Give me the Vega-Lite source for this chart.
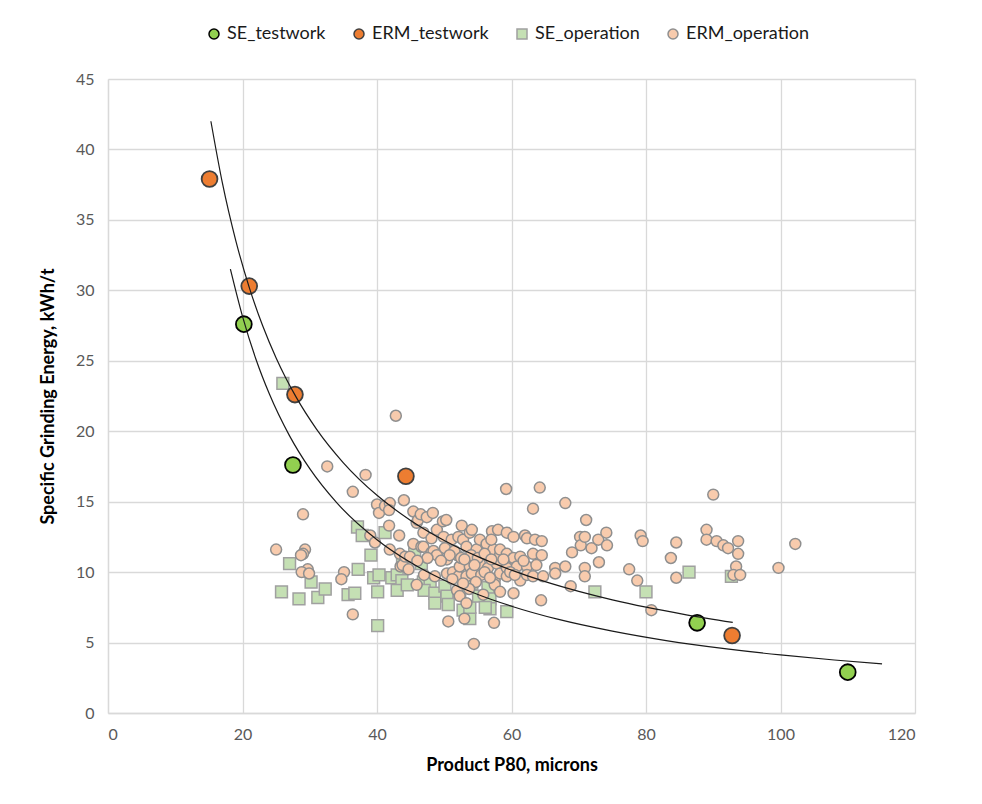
{
  "$schema": "https://vega.github.io/schema/vega-lite/v6.json",
  "autosize": {"type": "none"},
  "width": 807,
  "height": 634,
  "padding": {"left": 108, "top": 79, "right": 67, "bottom": 91},
  "background": "white",
  "config": {
    "font": "Lato",
    "view": {"stroke": null},
    "axis": {
      "gridColor": "#d9d9d9",
      "gridWidth": 1.3,
      "domainColor": "#d9d9d9",
      "domainWidth": 1.3,
      "ticks": false,
      "labelFont": "Lato",
      "labelFontSize": 16,
      "labelColor": "#595959",
      "titleFont": "Lato",
      "titleFontSize": 18,
      "titleFontWeight": "bold",
      "titleColor": "#000000"
    },
    "legend": {
      "direction": "horizontal",
      "labelFont": "Lato",
      "labelFontSize": 18,
      "labelColor": "#1a1a1a",
      "symbolSize": 100,
      "symbolStrokeWidth": 1.5,
      "columnPadding": 24
    }
  },
  "datasets": {
    "pts": [
      {"x": 26.0, "y": 23.4, "series": "SE_operation"},
      {"x": 27.0, "y": 10.6, "series": "SE_operation"},
      {"x": 25.8, "y": 8.6, "series": "SE_operation"},
      {"x": 28.4, "y": 8.1, "series": "SE_operation"},
      {"x": 30.2, "y": 9.3, "series": "SE_operation"},
      {"x": 31.2, "y": 8.2, "series": "SE_operation"},
      {"x": 32.3, "y": 8.8, "series": "SE_operation"},
      {"x": 35.7, "y": 8.4, "series": "SE_operation"},
      {"x": 36.7, "y": 8.5, "series": "SE_operation"},
      {"x": 37.1, "y": 13.2, "series": "SE_operation"},
      {"x": 37.8, "y": 12.6, "series": "SE_operation"},
      {"x": 37.2, "y": 10.2, "series": "SE_operation"},
      {"x": 39.1, "y": 11.2, "series": "SE_operation"},
      {"x": 39.5, "y": 9.6, "series": "SE_operation"},
      {"x": 40.3, "y": 9.8, "series": "SE_operation"},
      {"x": 40.1, "y": 8.6, "series": "SE_operation"},
      {"x": 40.1, "y": 6.2, "series": "SE_operation"},
      {"x": 41.2, "y": 12.8, "series": "SE_operation"},
      {"x": 42.2, "y": 9.6, "series": "SE_operation"},
      {"x": 43.0, "y": 9.8, "series": "SE_operation"},
      {"x": 43.7, "y": 9.4, "series": "SE_operation"},
      {"x": 43.0, "y": 8.7, "series": "SE_operation"},
      {"x": 44.5, "y": 9.1, "series": "SE_operation"},
      {"x": 43.8, "y": 10.7, "series": "SE_operation"},
      {"x": 46.6, "y": 10.6, "series": "SE_operation"},
      {"x": 45.6, "y": 11.3, "series": "SE_operation"},
      {"x": 46.9, "y": 9.3, "series": "SE_operation"},
      {"x": 47.9, "y": 9.2, "series": "SE_operation"},
      {"x": 47.0, "y": 8.7, "series": "SE_operation"},
      {"x": 48.6, "y": 8.5, "series": "SE_operation"},
      {"x": 48.6, "y": 7.8, "series": "SE_operation"},
      {"x": 50.1, "y": 9.0, "series": "SE_operation"},
      {"x": 50.4, "y": 8.3, "series": "SE_operation"},
      {"x": 50.6, "y": 7.7, "series": "SE_operation"},
      {"x": 52.3, "y": 8.6, "series": "SE_operation"},
      {"x": 54.1, "y": 9.2, "series": "SE_operation"},
      {"x": 52.8, "y": 7.3, "series": "SE_operation"},
      {"x": 53.8, "y": 6.7, "series": "SE_operation"},
      {"x": 53.8, "y": 7.5, "series": "SE_operation"},
      {"x": 55.1, "y": 8.3, "series": "SE_operation"},
      {"x": 56.5, "y": 8.9, "series": "SE_operation"},
      {"x": 56.8, "y": 8.1, "series": "SE_operation"},
      {"x": 56.8, "y": 7.4, "series": "SE_operation"},
      {"x": 56.1, "y": 7.5, "series": "SE_operation"},
      {"x": 59.3, "y": 7.2, "series": "SE_operation"},
      {"x": 72.4, "y": 8.6, "series": "SE_operation"},
      {"x": 80.0, "y": 8.6, "series": "SE_operation"},
      {"x": 86.4, "y": 10.0, "series": "SE_operation"},
      {"x": 92.7, "y": 9.7, "series": "SE_operation"},

      {"x": 25.0, "y": 11.6, "series": "ERM_operation"},
      {"x": 29.0, "y": 14.1, "series": "ERM_operation"},
      {"x": 29.3, "y": 11.6, "series": "ERM_operation"},
      {"x": 29.0, "y": 11.3, "series": "ERM_operation"},
      {"x": 28.7, "y": 11.2, "series": "ERM_operation"},
      {"x": 29.7, "y": 10.2, "series": "ERM_operation"},
      {"x": 28.8, "y": 10.0, "series": "ERM_operation"},
      {"x": 29.9, "y": 9.9, "series": "ERM_operation"},
      {"x": 32.6, "y": 17.5, "series": "ERM_operation"},
      {"x": 35.1, "y": 10.0, "series": "ERM_operation"},
      {"x": 34.7, "y": 9.5, "series": "ERM_operation"},
      {"x": 36.4, "y": 15.7, "series": "ERM_operation"},
      {"x": 36.4, "y": 7.0, "series": "ERM_operation"},
      {"x": 38.3, "y": 16.9, "series": "ERM_operation"},
      {"x": 39.0, "y": 12.6, "series": "ERM_operation"},
      {"x": 39.7, "y": 12.1, "series": "ERM_operation"},
      {"x": 40.0, "y": 14.8, "series": "ERM_operation"},
      {"x": 40.3, "y": 14.2, "series": "ERM_operation"},
      {"x": 41.2, "y": 14.7, "series": "ERM_operation"},
      {"x": 41.9, "y": 14.9, "series": "ERM_operation"},
      {"x": 41.8, "y": 14.4, "series": "ERM_operation"},
      {"x": 41.8, "y": 13.3, "series": "ERM_operation"},
      {"x": 41.9, "y": 11.6, "series": "ERM_operation"},
      {"x": 42.8, "y": 21.1, "series": "ERM_operation"},
      {"x": 43.3, "y": 12.6, "series": "ERM_operation"},
      {"x": 43.4, "y": 11.3, "series": "ERM_operation"},
      {"x": 43.5, "y": 10.4, "series": "ERM_operation"},
      {"x": 43.8, "y": 10.5, "series": "ERM_operation"},
      {"x": 44.2, "y": 11.1, "series": "ERM_operation"},
      {"x": 44.0, "y": 15.1, "series": "ERM_operation"},
      {"x": 44.9, "y": 11.1, "series": "ERM_operation"},
      {"x": 45.4, "y": 14.3, "series": "ERM_operation"},
      {"x": 45.4, "y": 12.0, "series": "ERM_operation"},
      {"x": 45.9, "y": 13.5, "series": "ERM_operation"},
      {"x": 45.9, "y": 9.1, "series": "ERM_operation"},
      {"x": 46.1, "y": 13.7, "series": "ERM_operation"},
      {"x": 46.5, "y": 14.1, "series": "ERM_operation"},
      {"x": 46.6, "y": 11.8, "series": "ERM_operation"},
      {"x": 46.9, "y": 12.8, "series": "ERM_operation"},
      {"x": 46.9, "y": 11.8, "series": "ERM_operation"},
      {"x": 47.4, "y": 13.9, "series": "ERM_operation"},
      {"x": 48.1, "y": 12.4, "series": "ERM_operation"},
      {"x": 48.1, "y": 11.4, "series": "ERM_operation"},
      {"x": 48.3, "y": 14.2, "series": "ERM_operation"},
      {"x": 48.4, "y": 11.5, "series": "ERM_operation"},
      {"x": 48.6, "y": 9.7, "series": "ERM_operation"},
      {"x": 48.9, "y": 13.0, "series": "ERM_operation"},
      {"x": 48.9, "y": 11.2, "series": "ERM_operation"},
      {"x": 49.8, "y": 13.6, "series": "ERM_operation"},
      {"x": 49.9, "y": 12.5, "series": "ERM_operation"},
      {"x": 50.1, "y": 11.7, "series": "ERM_operation"},
      {"x": 50.3, "y": 13.7, "series": "ERM_operation"},
      {"x": 50.4, "y": 10.9, "series": "ERM_operation"},
      {"x": 50.4, "y": 9.9, "series": "ERM_operation"},
      {"x": 50.6, "y": 6.5, "series": "ERM_operation"},
      {"x": 51.1, "y": 12.3, "series": "ERM_operation"},
      {"x": 51.3, "y": 10.0, "series": "ERM_operation"},
      {"x": 51.9, "y": 11.2, "series": "ERM_operation"},
      {"x": 51.9, "y": 8.7, "series": "ERM_operation"},
      {"x": 52.1, "y": 12.5, "series": "ERM_operation"},
      {"x": 52.1, "y": 9.7, "series": "ERM_operation"},
      {"x": 52.3, "y": 10.4, "series": "ERM_operation"},
      {"x": 52.3, "y": 8.3, "series": "ERM_operation"},
      {"x": 52.6, "y": 13.3, "series": "ERM_operation"},
      {"x": 52.8, "y": 12.3, "series": "ERM_operation"},
      {"x": 53.0, "y": 6.7, "series": "ERM_operation"},
      {"x": 53.3, "y": 11.8, "series": "ERM_operation"},
      {"x": 53.3, "y": 9.7, "series": "ERM_operation"},
      {"x": 53.3, "y": 7.8, "series": "ERM_operation"},
      {"x": 53.8, "y": 12.8, "series": "ERM_operation"},
      {"x": 53.8, "y": 10.4, "series": "ERM_operation"},
      {"x": 54.1, "y": 13.0, "series": "ERM_operation"},
      {"x": 54.1, "y": 9.9, "series": "ERM_operation"},
      {"x": 54.4, "y": 4.9, "series": "ERM_operation"},
      {"x": 54.8, "y": 11.6, "series": "ERM_operation"},
      {"x": 55.3, "y": 12.3, "series": "ERM_operation"},
      {"x": 55.3, "y": 10.6, "series": "ERM_operation"},
      {"x": 55.8, "y": 8.4, "series": "ERM_operation"},
      {"x": 56.3, "y": 12.0, "series": "ERM_operation"},
      {"x": 56.5, "y": 10.3, "series": "ERM_operation"},
      {"x": 57.1, "y": 12.9, "series": "ERM_operation"},
      {"x": 57.3, "y": 11.6, "series": "ERM_operation"},
      {"x": 57.4, "y": 6.4, "series": "ERM_operation"},
      {"x": 57.5, "y": 9.4, "series": "ERM_operation"},
      {"x": 57.5, "y": 9.1, "series": "ERM_operation"},
      {"x": 57.8, "y": 10.6, "series": "ERM_operation"},
      {"x": 58.0, "y": 13.0, "series": "ERM_operation"},
      {"x": 58.3, "y": 11.2, "series": "ERM_operation"},
      {"x": 58.3, "y": 9.9, "series": "ERM_operation"},
      {"x": 58.3, "y": 8.6, "series": "ERM_operation"},
      {"x": 58.3, "y": 11.6, "series": "ERM_operation"},
      {"x": 59.2, "y": 15.9, "series": "ERM_operation"},
      {"x": 59.3, "y": 12.8, "series": "ERM_operation"},
      {"x": 59.3, "y": 11.3, "series": "ERM_operation"},
      {"x": 59.3, "y": 10.3, "series": "ERM_operation"},
      {"x": 59.3, "y": 9.7, "series": "ERM_operation"},
      {"x": 60.3, "y": 12.5, "series": "ERM_operation"},
      {"x": 60.3, "y": 11.0, "series": "ERM_operation"},
      {"x": 60.3, "y": 8.5, "series": "ERM_operation"},
      {"x": 60.8, "y": 10.4, "series": "ERM_operation"},
      {"x": 61.3, "y": 11.1, "series": "ERM_operation"},
      {"x": 61.3, "y": 9.4, "series": "ERM_operation"},
      {"x": 62.0, "y": 12.6, "series": "ERM_operation"},
      {"x": 62.3, "y": 12.4, "series": "ERM_operation"},
      {"x": 62.3, "y": 10.4, "series": "ERM_operation"},
      {"x": 62.3, "y": 9.8, "series": "ERM_operation"},
      {"x": 63.2, "y": 14.5, "series": "ERM_operation"},
      {"x": 63.2, "y": 11.3, "series": "ERM_operation"},
      {"x": 63.2, "y": 9.7, "series": "ERM_operation"},
      {"x": 63.5, "y": 12.3, "series": "ERM_operation"},
      {"x": 63.7, "y": 10.5, "series": "ERM_operation"},
      {"x": 64.2, "y": 16.0, "series": "ERM_operation"},
      {"x": 64.4, "y": 8.0, "series": "ERM_operation"},
      {"x": 64.5, "y": 12.2, "series": "ERM_operation"},
      {"x": 64.5, "y": 11.2, "series": "ERM_operation"},
      {"x": 64.7, "y": 9.7, "series": "ERM_operation"},
      {"x": 66.5, "y": 10.3, "series": "ERM_operation"},
      {"x": 66.5, "y": 9.9, "series": "ERM_operation"},
      {"x": 68.0, "y": 14.9, "series": "ERM_operation"},
      {"x": 68.0, "y": 10.4, "series": "ERM_operation"},
      {"x": 68.8, "y": 9.0, "series": "ERM_operation"},
      {"x": 69.0, "y": 11.4, "series": "ERM_operation"},
      {"x": 70.2, "y": 12.5, "series": "ERM_operation"},
      {"x": 70.3, "y": 11.9, "series": "ERM_operation"},
      {"x": 70.9, "y": 12.5, "series": "ERM_operation"},
      {"x": 70.9, "y": 10.3, "series": "ERM_operation"},
      {"x": 70.9, "y": 9.7, "series": "ERM_operation"},
      {"x": 71.1, "y": 13.7, "series": "ERM_operation"},
      {"x": 71.9, "y": 11.7, "series": "ERM_operation"},
      {"x": 72.9, "y": 12.3, "series": "ERM_operation"},
      {"x": 73.0, "y": 10.7, "series": "ERM_operation"},
      {"x": 74.1, "y": 12.8, "series": "ERM_operation"},
      {"x": 74.2, "y": 11.9, "series": "ERM_operation"},
      {"x": 77.5, "y": 10.2, "series": "ERM_operation"},
      {"x": 78.7, "y": 9.4, "series": "ERM_operation"},
      {"x": 79.2, "y": 12.6, "series": "ERM_operation"},
      {"x": 79.5, "y": 12.2, "series": "ERM_operation"},
      {"x": 80.8, "y": 7.3, "series": "ERM_operation"},
      {"x": 83.7, "y": 11.0, "series": "ERM_operation"},
      {"x": 84.5, "y": 12.1, "series": "ERM_operation"},
      {"x": 84.5, "y": 9.6, "series": "ERM_operation"},
      {"x": 89.0, "y": 13.0, "series": "ERM_operation"},
      {"x": 89.0, "y": 12.3, "series": "ERM_operation"},
      {"x": 90.0, "y": 15.5, "series": "ERM_operation"},
      {"x": 90.5, "y": 12.2, "series": "ERM_operation"},
      {"x": 91.5, "y": 11.9, "series": "ERM_operation"},
      {"x": 92.2, "y": 11.7, "series": "ERM_operation"},
      {"x": 93.7, "y": 12.2, "series": "ERM_operation"},
      {"x": 93.7, "y": 11.3, "series": "ERM_operation"},
      {"x": 93.4, "y": 10.4, "series": "ERM_operation"},
      {"x": 93.0, "y": 9.8, "series": "ERM_operation"},
      {"x": 94.0, "y": 9.8, "series": "ERM_operation"},
      {"x": 99.7, "y": 10.3, "series": "ERM_operation"},
      {"x": 102.2, "y": 12.0, "series": "ERM_operation"},
      {"x": 51.5, "y": 11.5, "series": "ERM_operation"},
      {"x": 52.5, "y": 11.0, "series": "ERM_operation"},
      {"x": 54.0, "y": 11.2, "series": "ERM_operation"},
      {"x": 55.0, "y": 11.0, "series": "ERM_operation"},
      {"x": 56.0, "y": 11.3, "series": "ERM_operation"},
      {"x": 57.0, "y": 10.9, "series": "ERM_operation"},
      {"x": 55.5, "y": 9.8, "series": "ERM_operation"},
      {"x": 56.0, "y": 10.0, "series": "ERM_operation"},
      {"x": 54.5, "y": 10.5, "series": "ERM_operation"},
      {"x": 53.0, "y": 10.9, "series": "ERM_operation"},
      {"x": 50.8, "y": 11.2, "series": "ERM_operation"},
      {"x": 49.5, "y": 10.8, "series": "ERM_operation"},
      {"x": 57.0, "y": 12.3, "series": "ERM_operation"},
      {"x": 58.8, "y": 10.9, "series": "ERM_operation"},
      {"x": 59.8, "y": 10.0, "series": "ERM_operation"},
      {"x": 60.5, "y": 9.8, "series": "ERM_operation"},
      {"x": 61.8, "y": 10.8, "series": "ERM_operation"},
      {"x": 56.8, "y": 9.6, "series": "ERM_operation"},
      {"x": 54.7, "y": 9.3, "series": "ERM_operation"},
      {"x": 53.7, "y": 8.8, "series": "ERM_operation"},
      {"x": 52.8, "y": 9.2, "series": "ERM_operation"},
      {"x": 51.2, "y": 9.5, "series": "ERM_operation"},
      {"x": 47.5, "y": 11.0, "series": "ERM_operation"},
      {"x": 46.0, "y": 10.8, "series": "ERM_operation"},
      {"x": 44.7, "y": 10.2, "series": "ERM_operation"},
      {"x": 47.0, "y": 9.8, "series": "ERM_operation"},

      {"x": 20.2, "y": 27.6, "series": "SE_testwork"},
      {"x": 27.5, "y": 17.6, "series": "SE_testwork"},
      {"x": 87.6, "y": 6.4, "series": "SE_testwork"},
      {"x": 110.0, "y": 2.9, "series": "SE_testwork"},
      {"x": 15.1, "y": 37.9, "series": "ERM_testwork"},
      {"x": 21.0, "y": 30.3, "series": "ERM_testwork"},
      {"x": 27.8, "y": 22.6, "series": "ERM_testwork"},
      {"x": 44.3, "y": 16.8, "series": "ERM_testwork"},
      {"x": 92.8, "y": 5.5, "series": "ERM_testwork"}
    ],
    "curves": [
      {"x": 15.3, "y": 42.0, "curve": "ERM"},
      {"x": 17, "y": 37.64, "curve": "ERM"},
      {"x": 19, "y": 33.53, "curve": "ERM"},
      {"x": 21, "y": 30.21, "curve": "ERM"},
      {"x": 23, "y": 27.48, "curve": "ERM"},
      {"x": 25, "y": 25.2, "curve": "ERM"},
      {"x": 28, "y": 22.4, "curve": "ERM"},
      {"x": 31, "y": 20.15, "curve": "ERM"},
      {"x": 35, "y": 17.76, "curve": "ERM"},
      {"x": 40, "y": 15.45, "curve": "ERM"},
      {"x": 45, "y": 13.67, "curve": "ERM"},
      {"x": 50, "y": 12.25, "curve": "ERM"},
      {"x": 55, "y": 11.1, "curve": "ERM"},
      {"x": 60, "y": 10.14, "curve": "ERM"},
      {"x": 65, "y": 9.32, "curve": "ERM"},
      {"x": 70, "y": 8.63, "curve": "ERM"},
      {"x": 75, "y": 8.03, "curve": "ERM"},
      {"x": 80, "y": 7.51, "curve": "ERM"},
      {"x": 86, "y": 6.97, "curve": "ERM"},
      {"x": 92.9, "y": 6.43, "curve": "ERM"},
      {"x": 18.2, "y": 31.5, "curve": "SE"},
      {"x": 20, "y": 28.15, "curve": "SE"},
      {"x": 22, "y": 25.11, "curve": "SE"},
      {"x": 24, "y": 22.64, "curve": "SE"},
      {"x": 27, "y": 19.67, "curve": "SE"},
      {"x": 30, "y": 17.34, "curve": "SE"},
      {"x": 34, "y": 14.93, "curve": "SE"},
      {"x": 40, "y": 12.3, "curve": "SE"},
      {"x": 45, "y": 10.68, "curve": "SE"},
      {"x": 50, "y": 9.42, "curve": "SE"},
      {"x": 55, "y": 8.41, "curve": "SE"},
      {"x": 60, "y": 7.58, "curve": "SE"},
      {"x": 67, "y": 6.64, "curve": "SE"},
      {"x": 75, "y": 5.81, "curve": "SE"},
      {"x": 83, "y": 5.14, "curve": "SE"},
      {"x": 92, "y": 4.55, "curve": "SE"},
      {"x": 100, "y": 4.12, "curve": "SE"},
      {"x": 108, "y": 3.76, "curve": "SE"},
      {"x": 115.1, "y": 3.48, "curve": "SE"}
    ]
  },
  "encoding": {
    "x": {
      "field": "x", "type": "quantitative",
      "scale": {"domain": [0, 120], "nice": false, "zero": false},
      "axis": {"values": [0, 20, 40, 60, 80, 100, 120], "title": "Product P80, microns", "labelPadding": 13, "titlePadding": 14}
    },
    "y": {
      "field": "y", "type": "quantitative",
      "scale": {"domain": [0, 45], "nice": false},
      "axis": {"values": [0, 5, 10, 15, 20, 25, 30, 35, 40, 45], "title": "Specific Grinding Energy, kWh/t", "labelPadding": 14, "titlePadding": 18}
    }
  },
  "layer": [
    {
      "data": {"name": "pts"},
      "transform": [{"filter": "datum.series === 'SE_operation'"}],
      "mark": {"type": "point", "filled": true, "opacity": 1, "strokeWidth": 1.5, "size": 140},
      "encoding": {
        "fill": {"field": "series", "type": "nominal", "scale": {"domain": ["SE_testwork", "ERM_testwork", "SE_operation", "ERM_operation"], "range": ["#92D050", "#ED7D31", "#C5E0B4", "#F8CBAD"]}, "legend": {"title": null, "orient": "none", "legendX": 97, "legendY": -54, "direction": "horizontal"}},
        "stroke": {"field": "series", "type": "nominal", "scale": {"domain": ["SE_testwork", "ERM_testwork", "SE_operation", "ERM_operation"], "range": ["#000000", "#404040", "#a0a0a0", "#8f8f8f"]}, "legend": {"title": null, "orient": "none", "legendX": 97, "legendY": -54, "direction": "horizontal"}},
        "shape": {"field": "series", "type": "nominal", "scale": {"domain": ["SE_testwork", "ERM_testwork", "SE_operation", "ERM_operation"], "range": ["circle", "circle", "square", "circle"]}, "legend": {"title": null, "orient": "none", "legendX": 97, "legendY": -54, "direction": "horizontal"}}
      }
    },
    {
      "data": {"name": "pts"},
      "transform": [{"filter": "datum.series === 'ERM_operation'"}],
      "mark": {"type": "point", "filled": true, "opacity": 1, "strokeWidth": 1.5, "size": 120},
      "encoding": {
        "fill": {"field": "series", "type": "nominal"},
        "stroke": {"field": "series", "type": "nominal"},
        "shape": {"field": "series", "type": "nominal"}
      }
    },
    {
      "data": {"name": "pts"},
      "transform": [{"filter": "datum.series === 'SE_testwork' || datum.series === 'ERM_testwork'"}],
      "mark": {"type": "point", "filled": true, "opacity": 1, "strokeWidth": 1.8, "size": 250},
      "encoding": {
        "fill": {"field": "series", "type": "nominal"},
        "stroke": {"field": "series", "type": "nominal"},
        "shape": {"field": "series", "type": "nominal"}
      }
    },
    {
      "data": {"name": "curves"},
      "mark": {"type": "line", "color": "#1a1a1a", "strokeWidth": 1.2, "interpolate": "monotone"},
      "encoding": {
        "detail": {"field": "curve", "type": "nominal"}
      }
    }
  ]
}
